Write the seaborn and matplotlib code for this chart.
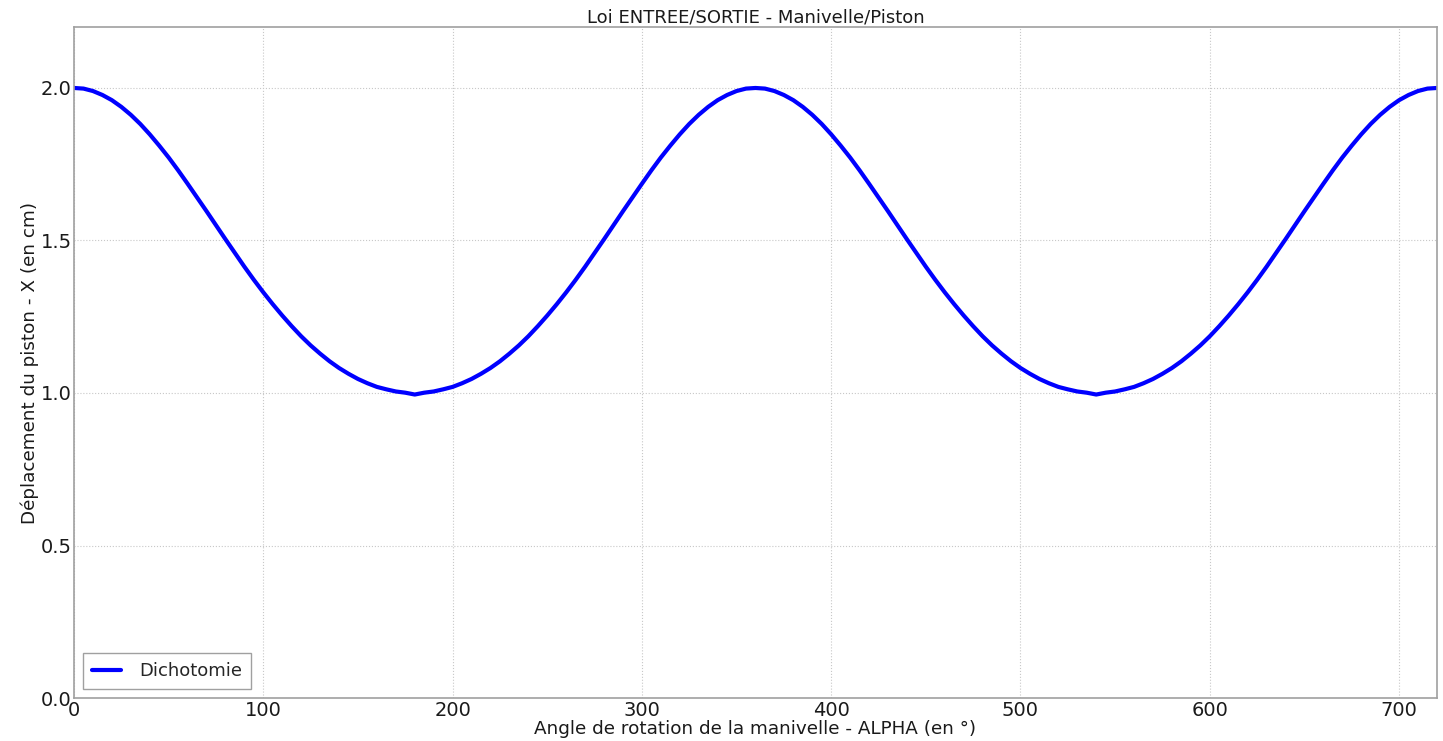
import matplotlib
matplotlib.use("Agg")
import matplotlib.pyplot as plt
import seaborn as sns
import pandas as pd

# Crank angle (degrees), every 5 degrees from 0 to 720
alpha = list(range(0, 725, 5))
# Piston displacement (cm)
x_piston = [
    # 0 -> 180
    2.000, 1.998, 1.990, 1.977, 1.960, 1.938, 1.912, 1.882, 1.848, 1.811, 1.772, 1.730,
    1.686, 1.641, 1.596, 1.550, 1.504, 1.459, 1.414, 1.371, 1.330, 1.291, 1.254, 1.219,
    1.186, 1.156, 1.129, 1.104, 1.082, 1.063, 1.046, 1.032, 1.020, 1.012, 1.005, 1.001, 0.995,
    # 185 -> 360
    1.001, 1.005, 1.012, 1.020, 1.032, 1.046, 1.063, 1.082, 1.104, 1.129, 1.156, 1.186,
    1.219, 1.254, 1.291, 1.330, 1.371, 1.414, 1.459, 1.504, 1.550, 1.596, 1.641, 1.686,
    1.730, 1.772, 1.811, 1.848, 1.882, 1.912, 1.938, 1.960, 1.977, 1.990, 1.998, 2.000,
    # 365 -> 540
    1.998, 1.990, 1.977, 1.960, 1.938, 1.912, 1.882, 1.848, 1.811, 1.772, 1.730,
    1.686, 1.641, 1.596, 1.550, 1.504, 1.459, 1.414, 1.371, 1.330, 1.291, 1.254, 1.219,
    1.186, 1.156, 1.129, 1.104, 1.082, 1.063, 1.046, 1.032, 1.020, 1.012, 1.005, 1.001, 0.995,
    # 545 -> 720
    1.001, 1.005, 1.012, 1.020, 1.032, 1.046, 1.063, 1.082, 1.104, 1.129, 1.156, 1.186,
    1.219, 1.254, 1.291, 1.330, 1.371, 1.414, 1.459, 1.504, 1.550, 1.596, 1.641, 1.686,
    1.730, 1.772, 1.811, 1.848, 1.882, 1.912, 1.938, 1.960, 1.977, 1.990, 1.998, 2.000,
]
series_name = "Dichotomie"

title = "Loi ENTREE/SORTIE - Manivelle/Piston"
xlabel = "Angle de rotation de la manivelle - ALPHA (en °)"
ylabel = "Déplacement du piston - X (en cm)"
xticks = [0, 100, 200, 300, 400, 500, 600, 700]
yticks = [0.0, 0.5, 1.0, 1.5, 2.0]
ytick_labels = ["0.0", "0.5", "1.0", "1.5", "2.0"]

df = pd.DataFrame({"alpha": alpha, "x": x_piston})

sns.set_style("whitegrid", {
    "axes.edgecolor": "#a0a0a0",
    "grid.color": "#c8c8c8",
    "grid.linestyle": ":",
})
plt.rcParams['font.family'] = ['DejaVu Sans']

fig = plt.figure(figsize=(14.43, 7.41), dpi=100)
ax = fig.add_axes([0.0513, 0.058, 0.9445, 0.9056])

sns.lineplot(data=df, x="alpha", y="x", ax=ax, color="#0000ff", linewidth=3,
             label=series_name, estimator=None, sort=False)

ax.set_xlim(0, 720)
ax.set_ylim(0, 2.2)
ax.set_xticks(xticks)
ax.set_yticks(yticks)
ax.set_yticklabels(ytick_labels)
ax.tick_params(axis="both", labelsize=14, length=0, colors="#1a1a1a")
ax.tick_params(axis="x", pad=2)
ax.tick_params(axis="y", pad=1.5)
ax.grid(True, linestyle=":", color="#c8c8c8", linewidth=0.8)
for s in ax.spines.values():
    s.set_color("#a0a0a0")
    s.set_linewidth(1.2)

ax.set_title(title, fontsize=13, pad=3, color="#1a1a1a")
ax.set_xlabel(xlabel, fontsize=13.2, labelpad=0, color="#1a1a1a")
ax.set_ylabel(ylabel, fontsize=13.2, labelpad=1, color="#1a1a1a")

leg = ax.legend(loc="lower left", fontsize=13, fancybox=False, frameon=True,
                handlelength=1.6, handletextpad=1.0, borderpad=0.5)
leg.get_frame().set_edgecolor("#a0a0a0")
leg.get_frame().set_linewidth(1.0)
leg.get_frame().set_alpha(1.0)

fig.savefig("out.png", dpi=100, facecolor="white")
